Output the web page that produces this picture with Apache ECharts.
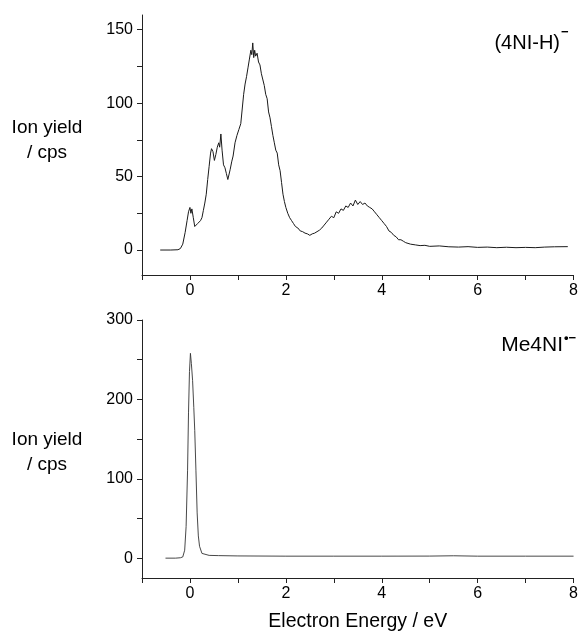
<!DOCTYPE html>
<html><head><meta charset="utf-8">
<script src="https://cdn.jsdelivr.net/npm/echarts@6/dist/echarts.min.js"></script>
<style>html,body{margin:0;padding:0;background:#fff}#c{width:581px;height:633px}</style>
</head><body><div id="c"></div>
<script>
const topEnergy = [-0.62,-0.4,-0.25,-0.2,-0.15,-0.1,-0.06,-0.03,0.0,0.02,0.04,0.07,0.1,0.13,0.16,0.19,0.22,0.25,0.28,0.31,0.34,0.37,0.40,0.43,0.45,0.48,0.51,0.54,0.57,0.60,0.62,0.645,0.67,0.70,0.73,0.76,0.79,0.81,0.84,0.87,0.90,0.94,0.98,1.02,1.06,1.09,1.12,1.15,1.18,1.21,1.24,1.27,1.29,1.31,1.33,1.35,1.37,1.40,1.43,1.46,1.49,1.52,1.55,1.58,1.61,1.64,1.67,1.70,1.73,1.76,1.79,1.82,1.85,1.88,1.91,1.94,1.97,2.00,2.04,2.08,2.12,2.16,2.20,2.25,2.30,2.35,2.40,2.45,2.50,2.55,2.60,2.65,2.70,2.75,2.80,2.85,2.90,2.95,3.00,3.05,3.10,3.15,3.20,3.25,3.30,3.35,3.40,3.45,3.50,3.55,3.60,3.65,3.70,3.75,3.80,3.85,3.90,3.95,4.00,4.05,4.10,4.15,4.20,4.25,4.30,4.35,4.40,4.45,4.50,4.60,4.70,4.80,4.90,5.00,5.20,5.40,5.60,5.80,6.00,6.20,6.40,6.60,6.80,7.00,7.20,7.40,7.60,7.88];
const topYield = [0,0,0.2,1,4,12,20,26,29,25,28,22,16,15,18,17,20,22,27,32,38,48,57,66,69,67,61,65,70,73,70,79,68,58,56,52,48,47,55,60,64,73,78,82,86,96,106,113,118,124,130,136,133,141,131,136,132,134,128,126,120,119,112,106,103,94,90,84,78,73,68,66,58,54,46,38,33,29,25,22,20,18,16,15,13,12.5,11.5,11,10,11,11.5,12.5,13.5,15,17,19,21,23,22,26,25,28,27,30,29,32,30,34,31,33,31,32,30,29,28,26,24,22,20,18,16,13,12,10,9,7,7,6,5,4,3.5,3,3.2,2.5,2.8,2.2,2,2.3,1.8,2,1.6,1.9,1.6,1.8,1.6,2.0,2.2,2.3];
const botEnergy = [-0.51,-0.3,-0.2,-0.15,-0.11,-0.08,-0.05,-0.03,-0.01,0.01,0.03,0.055,0.08,0.10,0.125,0.15,0.175,0.20,0.25,0.29,0.4,0.6,1.0,2,3,4,5,5.5,6,7,8];
const botYield = [0,0,0.5,1.5,10,40,110,183,235,258,245,224,190,161,110,57,28,15,6,4,3.5,3.2,2.8,2.5,2.5,2.5,2.6,3,2.5,2.5,2.5];
const xLabels = ['0','2','4','6','8'];
const topYTicks = [0,25,50,75,100,125,150];
const topYLabels = [0,50,100,150];
const botYTicks = [0,50,100,150,200,250,300];
const botYLabels = [0,100,200,300];

const chart = echarts.init(document.getElementById('c'));
const axisCol = '#222';
const font = 'Liberation Sans, Arial, sans-serif';
function xAxis(gi){
  return {type:'value', gridIndex:gi, min:-1, max:8, interval:1,
    axisLine:{show:true,onZero:false,lineStyle:{color:axisCol,width:1}},
    axisTick:{show:true,inside:false,length:5,lineStyle:{color:axisCol}},
    splitLine:{show:false},
    axisLabel:{color:'#000',fontSize:16,fontFamily:font,margin:8,
      formatter:v=> xLabels.indexOf(String(v))>=0 ? String(v) : ''}
  };
}
function yAxis(gi,min,max,ticks,labels){
  return {type:'value', gridIndex:gi, min:min, max:max,
    axisLine:{show:true,onZero:false,lineStyle:{color:axisCol,width:1}},
    axisTick:{show:true,length:5,customValues:ticks,lineStyle:{color:axisCol}},
    splitLine:{show:false},
    axisLabel:{color:'#000',fontSize:16,fontFamily:font,margin:9,customValues:labels}
  };
}
const txt = (x,y,t,size,align)=>({type:'text',x:x,y:y,style:{text:t,fontSize:size,fontFamily:font,fill:'#000',align:align||'center',verticalAlign:'middle'}});
chart.setOption({
  animation:false,
  grid:[{left:142,top:15,width:432,height:260},{left:142,top:320,width:432,height:258}],
  xAxis:[xAxis(0),Object.assign(xAxis(1),{name:'Electron Energy / eV',nameLocation:'middle',nameGap:34,
    nameTextStyle:{color:'#000',fontSize:19.5,fontFamily:font}})],
  yAxis:[yAxis(0,-17,160,topYTicks,topYLabels),yAxis(1,-25,300,botYTicks,botYLabels)],
  series:[
    {type:'line',xAxisIndex:0,yAxisIndex:0,showSymbol:false,lineStyle:{color:'#1a1a1a',width:1},
      data:topEnergy.map((x,i)=>[x,topYield[i]])},
    {type:'line',xAxisIndex:1,yAxisIndex:1,showSymbol:false,lineStyle:{color:'#333',width:0.9},
      data:botEnergy.map((x,i)=>[x,botYield[i]])}
  ],
  graphic:[
    txt(47,128,'Ion yield',19),
    txt(47,153,'/ cps',19),
    txt(47,440,'Ion yield',19),
    txt(47,465,'/ cps',19),
    txt(560,43,'(4NI-H)',20,'right'),
    {type:'text',x:561,y:32,style:{text:'\u2212',fontSize:13,fontWeight:'bold',fontFamily:font,fill:'#000',align:'left',verticalAlign:'middle'}},
    txt(563,345,'Me4NI',21,'right'),
    {type:'text',x:564,y:338,style:{text:'\u2022\u2212',fontSize:13,fontWeight:'bold',fontFamily:font,fill:'#000',align:'left',verticalAlign:'middle'}}
  ]
});
</script></body></html>
